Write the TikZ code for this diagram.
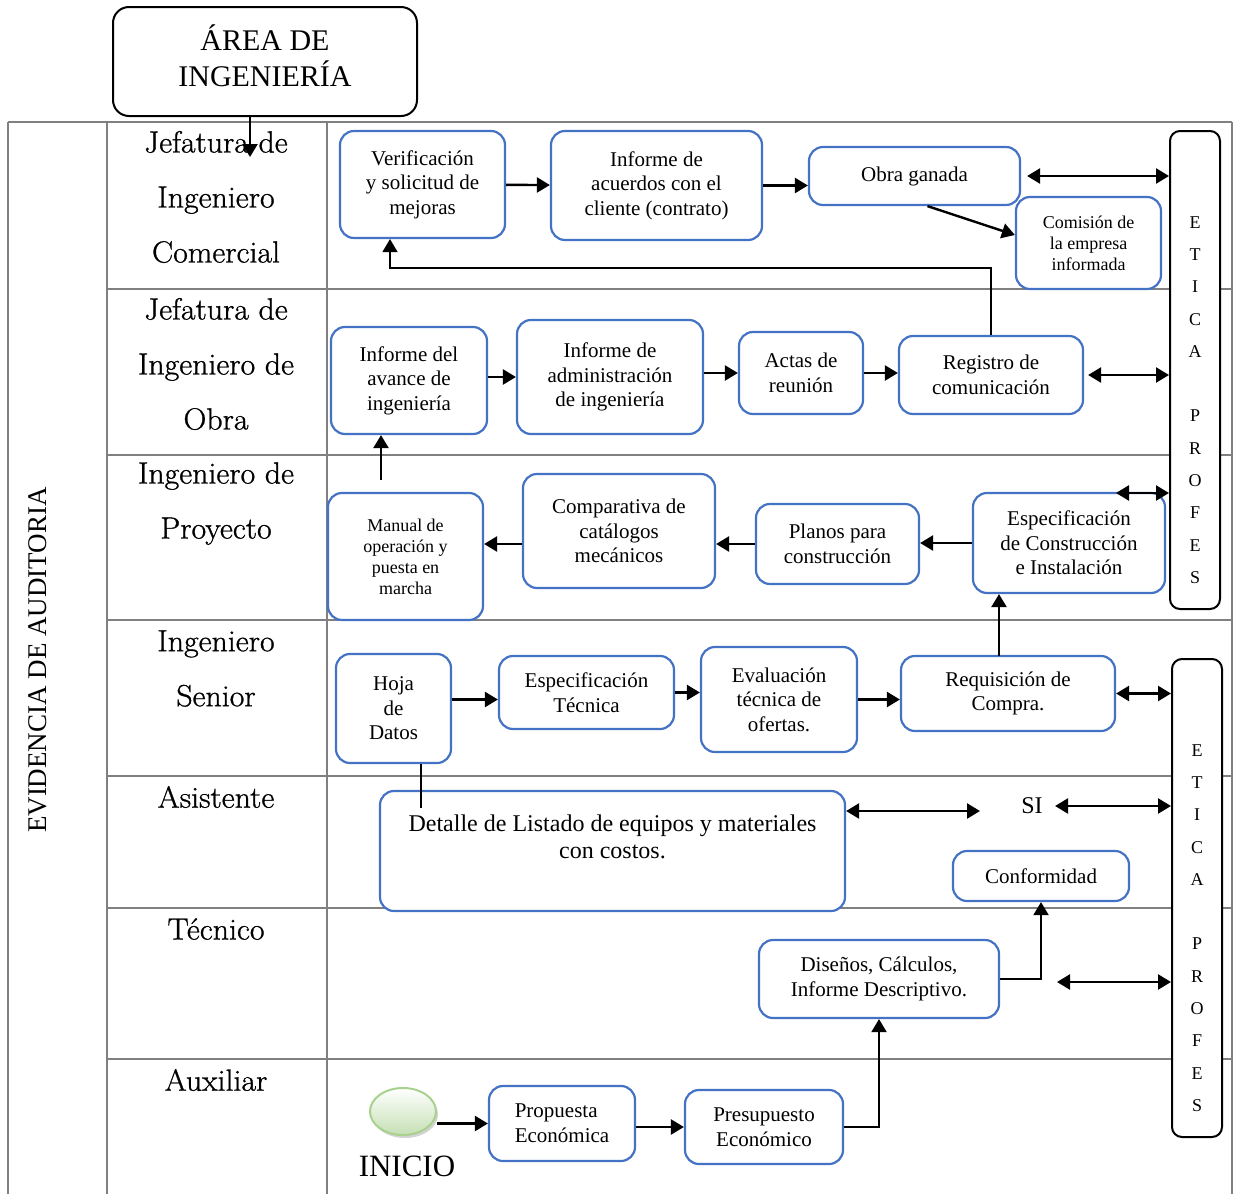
\documentclass[tikz,border=0pt]{standalone}
\usepackage{fontspec}
\setmainfont{Liberation Serif}
\newfontfamily\rolefont[FakeBold=0.9, FakeStretch=1.04]{Latin Modern Roman}
\usetikzlibrary{arrows.meta, positioning, shapes.geometric, shadows, calc}
\definecolor{boxblue}{HTML}{4472C4}
\definecolor{gridgray}{HTML}{808080}
\definecolor{startline}{HTML}{A9D18E}
\definecolor{startfill}{HTML}{C5E0B4}

\begin{document}
\begin{tikzpicture}[x=0.5pt, y=-0.5pt, >={Triangle[length=6.5pt,width=7.5pt]}]
    \tikzstyle{grid line}=[draw=gridgray, line width=1pt]
    \tikzstyle{task box}=[draw=boxblue, line width=1.1pt, rounded corners=7pt, fill=white, align=center, inner sep=2pt, font=\fontsize{10.5}{12.3}\selectfont]
    \tikzstyle{small task}=[task box, font=\fontsize{9}{10.5}\selectfont]
    \tikzstyle{head box}=[draw=black, line width=1pt, rounded corners=8pt, fill=white, align=center, font=\fontsize{15}{18}\selectfont]
    \tikzstyle{etica box}=[draw=black, line width=1pt, rounded corners=5pt, fill=white, minimum width=25pt, minimum height=239pt]
    \tikzstyle{etica text}=[align=center, font=\fontsize{9}{16.15}\selectfont]
    \tikzstyle{role}=[align=center, font=\rolefont\fontsize{15.3}{27.5}\selectfont]
    \tikzstyle{start node}=[ellipse, draw=startline, line width=1pt, top color=white, bottom color=startfill, minimum width=33pt, minimum height=23.5pt, drop shadow={shadow xshift=1pt, shadow yshift=-1.5pt, opacity=0.35}]
    \tikzstyle{arr}=[->, line width=1.2pt]
    \tikzstyle{dbl}=[<->, line width=1.2pt]
    \tikzstyle{thin arr}=[->, line width=0.8pt]
    \tikzstyle{link}=[line width=0.8pt]

    \useasboundingbox (0,0) rectangle (1238,1194);

    % table
    \draw[grid line] (8,122) -- (1232,122);
    \foreach \y in {289,455,620,776,908,1059}
        \draw[grid line] (107,\y) -- (1232,\y);
    \foreach \x in {8,107,327,1232}
        \draw[grid line] (\x,122) -- (\x,1194);

    \node[rotate=90, font=\fontsize{13.5}{16}\selectfont] (evidencia) at (38,660) {EVIDENCIA DE AUDITORIA};

    \node[role] (r-comercial) at (216,197) {Jefatura de\\Ingeniero\\Comercial};
    \node[role] (r-obra) at (216,364) {Jefatura de\\Ingeniero de\\Obra};
    \node[role] (r-proyecto) at (216,503.5) {Ingeniero de\\Proyecto};
    \node[role] (r-senior) at (216,668.5) {Ingeniero\\Senior};
    \node[role] (r-asistente) at (216,797) {Asistente};
    \node[role] (r-tecnico) at (216,929) {Técnico};
    \node[role] (r-auxiliar) at (216,1080) {Auxiliar};

    \node[head box, minimum width=152pt, minimum height=54.5pt] (area) at (265,61.5) {ÁREA DE\\INGENIERÍA\\[-12pt]\mbox{}};

    % etica columns
    \node[etica box] (etica1) at (1195,370) {};
    \node[etica text] (etica1-txt) at (1195,400) {E\\T\\I\\C\\A\\[16.15pt]P\\R\\O\\F\\E\\S};
    \node[etica box] (etica2) at (1197,898) {};
    \node[etica text] (etica2-txt) at (1197,928) {E\\T\\I\\C\\A\\[16.15pt]P\\R\\O\\F\\E\\S};

    % jefatura comercial
    \node[task box, minimum width=82.5pt, minimum height=53.5pt] (verif) at (422.5,184.5) {Verificación\\y solicitud de\\mejoras};
    \node[task box, minimum width=105.5pt, minimum height=54.5pt] (acuerdos) at (656.5,185.5) {Informe de\\acuerdos con el\\cliente (contrato)};
    \node[task box, minimum width=105.5pt, minimum height=29pt] (obra) at (914.5,176) {Obra ganada};
    \node[small task, minimum width=72.5pt, minimum height=46pt] (comision) at (1088.5,243) {Comisión de\\la empresa\\informada};

    % jefatura obra
    \node[task box, minimum width=78pt, minimum height=53.5pt] (avance) at (409,380.5) {Informe del\\avance de\\ingeniería};
    \node[task box, minimum width=93pt, minimum height=57pt] (admin) at (610,377) {Informe de\\administración\\de ingeniería};
    \node[task box, minimum width=62pt, minimum height=41pt] (actas) at (801,373) {Actas de\\reunión};
    \node[task box, minimum width=92pt, minimum height=39pt] (registro) at (991,375) {Registro de\\comunicación};

    % proyecto
    \node[small task, minimum width=77.5pt, minimum height=63.5pt] (manual) at (405.5,556.5) {Manual de\\operación y\\puesta en\\marcha};
    \node[task box, minimum width=96pt, minimum height=57pt] (catalogos) at (619,531) {Comparativa de\\catálogos\\mecánicos};
    \node[task box, minimum width=81.5pt, minimum height=40pt] (planos) at (837.5,544) {Planos para\\construcción};
    \node[task box, minimum width=96pt, minimum height=50pt] (especif) at (1069,543) {Especificación\\de Construcción\\e Instalación};

    % senior
    \node[task box, minimum width=57.5pt, minimum height=54.5pt] (hoja) at (393.5,708.5) {Hoja\\de\\Datos};
    \node[task box, minimum width=87.5pt, minimum height=36.5pt] (esptec) at (586.5,692.5) {Especificación\\Técnica};
    \node[task box, minimum width=78pt, minimum height=52.5pt] (evaluacion) at (779,699.5) {Evaluación\\técnica de\\ofertas.};
    \node[task box, minimum width=107pt, minimum height=37.5pt] (requisicion) at (1008,693.5) {Requisición de\\Compra.};

    % asistente
    \node[task box, minimum width=232.5pt, minimum height=60pt] (detalle) at (612.5,851) {};
    \node[align=center, font=\fontsize{12}{13.5}\selectfont, anchor=north] (detalle-txt) at (612.5,808) {Detalle de Listado de equipos y materiales\\con costos.};
    \node[font=\fontsize{12}{14}\selectfont, inner sep=1pt] (si) at (1032,806) {SI};
    \node[task box, minimum width=88pt, minimum height=25pt] (conformidad) at (1041,876) {Conformidad};

    % tecnico
    \node[task box, minimum width=120pt, minimum height=39pt] (disenos) at (879,979) {Diseños, Cálculos,\\Informe Descriptivo.};

    % auxiliar
    \node[start node] (inicio) at (403,1111.5) {};
    \node[font=\fontsize{15.5}{18}\selectfont] (inicio-txt) at (407,1166) {INICIO};
    \node[task box, align=left, minimum width=73pt, minimum height=37.5pt] (propuesta) at (562,1123.5) {Propuesta\\Económica};
    \node[task box, minimum width=79pt, minimum height=37pt] (presupuesto) at (764,1127) {Presupuesto\\Económico};

    % connectors
    \coordinate (area-in) at (250,157);
    \coordinate (back) at (390,268);
    \coordinate (manual-up) at (381,480);
    \coordinate (req-up) at (999,656);
    \coordinate (espec-out) at (1116,493);
    \coordinate (hoja-down) at (421,808);
    \coordinate (si-left) at (980,811);
    \coordinate (disenos-out) at (1057,982);

    \draw[arr] (area-in |- area.south) -- (area-in);

    \draw[arr] (verif) -- (acuerdos);
    \draw[arr] (acuerdos.east) -- (acuerdos.east -| obra.west);
    \draw[arr] ([xshift=6.5pt]obra.south) -- ([yshift=4pt]comision.west);
    \draw[dbl] ([xshift=3pt]obra.east) -- (obra.east -| etica1.west);
    \draw[thin arr] (registro.north) |- (back) -- (back |- verif.south);

    \draw[arr] (admin.west -| avance.east) -- (admin.west);
    \draw[arr] (actas.west -| admin.east) -- (actas.west);
    \draw[arr] (actas.east) -- (actas.east -| registro.west);
    \draw[dbl] ([xshift=2pt]registro.east) -- (registro.east -| etica1.west);

    \draw[arr] (manual-up) -- (manual-up |- avance.south);
    \draw[arr] (especif.west) -- (especif.west -| planos.east);
    \draw[arr] (planos.west) -- (planos.west -| catalogos.east);
    \draw[arr] (catalogos.west |- planos.west) -- (manual.east |- planos.west);
    \draw[dbl] (espec-out) -- (espec-out -| etica1.west);

    \draw[arr] (hoja.east |- evaluacion.west) -- (esptec.west |- evaluacion.west);
    \draw[arr] (esptec.east) -- (esptec.east -| evaluacion.west);
    \draw[arr] (evaluacion.east) -- (evaluacion.east -| requisicion.west);
    \draw[arr] (req-up) -- (req-up |- especif.south);
    \draw[dbl] (requisicion.east) -- (requisicion.east -| etica2.west);

    \draw[link] (hoja-down |- hoja.south) -- (hoja-down);
    \draw[dbl] (si-left -| detalle.east) -- (si-left);
    \draw[dbl] ([xshift=5pt]si.east) -- (si.east -| etica2.west);

    \draw[thin arr, line width=1pt] (disenos.east) -| (conformidad.south);
    \draw[dbl] (disenos-out) -- (disenos-out -| etica2.west);

    \draw[arr] (inicio.east |- propuesta.west) -- (propuesta.west);
    \draw[arr] (propuesta.east |- presupuesto.west) -- (presupuesto.west);
    \draw[thin arr, line width=1pt] (presupuesto.east) -| (disenos.south);
\end{tikzpicture}
\end{document}
